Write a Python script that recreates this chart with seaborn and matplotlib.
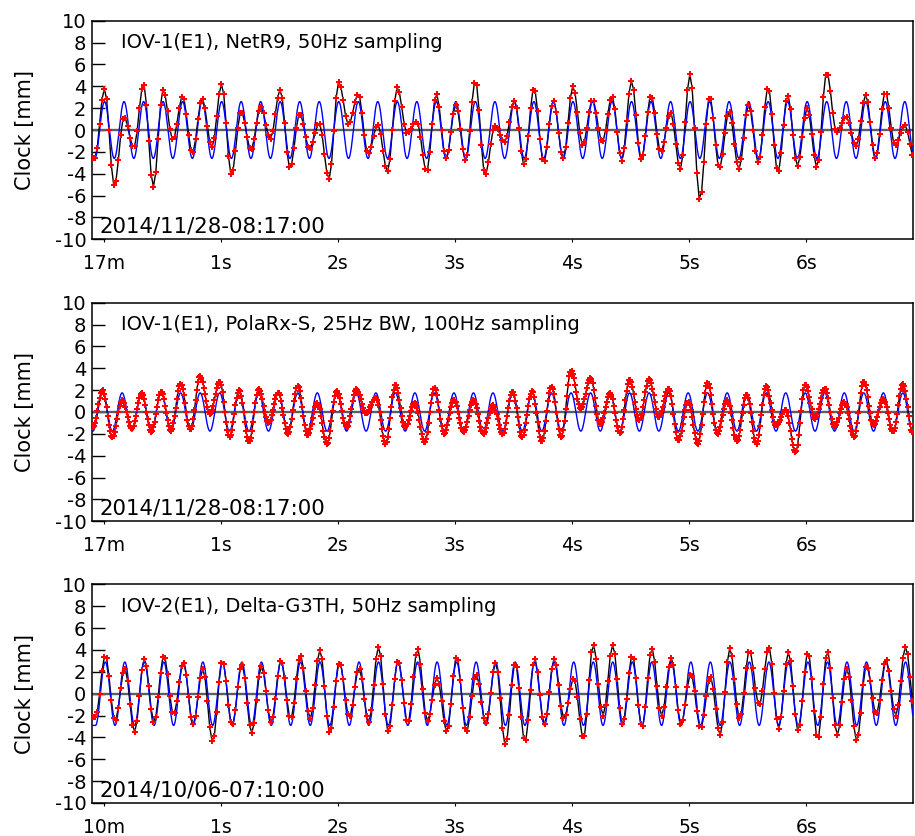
import numpy as np
import pandas as pd
import matplotlib
matplotlib.use("Agg")
import matplotlib.pyplot as plt
import seaborn as sns

# Per-panel labels
titles = ["IOV-1(E1), NetR9, 50Hz sampling",
          "IOV-1(E1), PolaRx-S, 25Hz BW, 100Hz sampling",
          "IOV-2(E1), Delta-G3TH, 50Hz sampling"]
dates = ["2014/11/28-08:17:00", "2014/11/28-08:17:00", "2014/10/06-07:10:00"]
first_tick = ["17m", "17m", "10m"]
tick_secs = [0, 1, 2, 3, 4, 5, 6]
sample_rate = [50, 100, 50]

# Blue model: 6 Hz sinusoid, amplitude and phase (s) read per panel
model_freq = 6.0
model_amp = [2.6, 1.75, 2.9]
model_phase = [0.008, -0.0085, 0.0145]

# Measured clock: value at each half-cycle extremum (k = -1 .. 83), mm
ext1 = [-2.6, 3.8, -5.1, 1.2, -1.6, 4.2, -5.2, 3.7, -0.9, 3.1, -2.1, 2.9, -1.6, 4.2,
        -4.1, 1.7, -1.8, 2.1, -0.8, 3.7, -3.5, 1.5, -1.7, 0.6, -4.5, 4.4, 0.5, 3.3,
        -2.2, 0.5, -3.8, 3.9, -0.3, 0.8, -3.8, 3.3, -2.6, 2.3, -2.8, 4.5, -4.1, 0.4,
        -1.1, 2.7, -3.2, 3.85, -3.0, 2.7, -2.6, 4.0, -1.4, 2.8, -1.1, 3.1, -2.8, 4.5,
        -2.7, 3.2, -2.0, 1.6, -3.6, 5.1, -6.4, 3.1, -3.5, 1.7, -3.6, 2.3, -3.0, 3.9,
        -3.9, 3.2, -3.3, 2.0, -3.4, 5.3, -0.2, 1.2, -1.5, 3.2, -2.6, 3.5, -1.4, 0.45,
        -2.7]
ext2 = [-1.4, 2.0, -2.3, 1.1, -1.5, 1.7, -1.8, 1.9, -1.7, 2.6, -1.6, 3.3, -0.15, 2.8,
        -2.25, 2.0, -2.7, 2.1, -1.0, 1.8, -2.0, 2.4, -2.15, 0.8, -2.9, 1.9, -1.4, 2.1,
        -0.1, 1.3, -2.9, 2.5, -1.4, 0.8, -2.8, 2.2, -2.0, 1.1, -1.8, 1.1, -2.0, 0.6,
        -2.0, 1.85, -2.3, 1.9, -2.7, 2.3, -2.3, 3.75, 0.3, 3.1, -1.1, 1.7, -1.9, 3.0,
        -0.7, 3.0, -0.45, 2.15, -2.6, 0.9, -2.9, 2.7, -2.0, 1.1, -2.7, 1.6, -2.9, 2.4,
        -1.2, 0.2, -3.7, 2.5, -0.6, 2.15, -1.4, 0.9, -2.3, 2.8, -1.2, 1.2, -1.8, 2.6,
        -1.85]
ext3 = [-2.1, 3.5, -2.5, 2.3, -3.5, 3.2, -2.6, 3.5, -1.9, 2.9, -2.8, 2.25, -4.4, 3.0,
        -2.9, 2.7, -3.6, 2.5, -2.6, 3.1, -2.3, 3.5, -2.3, 4.0, -3.6, 2.9, -2.15, 2.3,
        -2.6, 4.3, -3.5, 3.1, -2.7, 4.1, -2.5, 1.45, -3.5, 3.4, -3.5, 1.75, -2.7, 2.85,
        -4.7, 2.8, -4.4, 3.2, -2.8, 3.2, -2.25, 1.4, -4.1, 4.5, -2.0, 4.45, -2.8, 3.5,
        -3.1, 4.15, -2.0, 3.3, -2.8, 1.85, -3.2, 1.55, -3.8, 4.15, -2.3, 3.95, -1.1, 4.25,
        -3.2, 3.8, -3.4, 3.85, -4.15, 3.9, -3.8, 2.3, -4.3, 2.6, -1.85, 3.1, -2.0, 4.3,
        -2.0]
extrema = [ext1, ext2, ext3]

t_min, t_max = -0.099, 6.909


def through_extrema(t, t_ext, v_ext):
    # half-cosine swing from one extremum to the next
    i = np.clip(np.searchsorted(t_ext, t) - 1, 0, len(t_ext) - 2)
    frac = np.clip((t - t_ext[i]) / (t_ext[i + 1] - t_ext[i]), 0, 1)
    w = (1 - np.cos(np.pi * frac)) / 2
    return v_ext[i] + (v_ext[i + 1] - v_ext[i]) * w


sns.set_style("white")
plt.rcParams['font.family'] = ['DejaVu Sans']
plt.rcParams['axes.unicode_minus'] = False
for key in ['text.color', 'axes.labelcolor', 'xtick.color', 'ytick.color']:
    plt.rcParams[key] = 'black'

fig = plt.figure(figsize=(9.15, 8.36), dpi=100)
W, H = 915, 836
ax_left, ax_w, ax_h = 92 / W, 820.7 / W, 218.6 / H
bottoms = [1 - 239.3 / H, 1 - 521.3 / H, 1 - 803.0 / H]

for p in range(3):
    ax = fig.add_axes([ax_left, bottoms[p], ax_w, ax_h])
    half = 0.5 / model_freq
    k = np.arange(-1, 84)
    t_ext = model_phase[p] + k * half
    v_meas = np.array(extrema[p])
    v_model = np.array([model_amp[p] if kk % 2 == 0 else -model_amp[p] for kk in k])

    t_s = np.arange(t_min + 0.005, t_max, 1.0 / sample_rate[p])
    meas = pd.DataFrame({"t": t_s, "clock": through_extrema(t_s, t_ext, v_meas)})
    t_f = np.linspace(t_min, t_max, 3000)
    model = pd.DataFrame({"t": t_f, "clock": through_extrema(t_f, t_ext, v_model)})

    ax.axhline(0, color="#5e5e5e", lw=1.7, zorder=1)
    sns.lineplot(data=meas, x="t", y="clock", color="black", lw=1.0,
                 sort=False, estimator=None, ax=ax, zorder=2)
    sns.lineplot(data=model, x="t", y="clock", color="#0000ff", lw=1.0,
                 sort=False, estimator=None, ax=ax, zorder=3)
    sns.scatterplot(data=meas, x="t", y="clock", color="red", marker="P",
                    s=24, linewidth=0, ax=ax, zorder=4)

    ax.set_xlim(t_min, t_max)
    ax.set_ylim(-10, 10)
    ax.set_yticks(range(-10, 11, 2))
    ax.set_xticks(tick_secs)
    ax.set_xticklabels([first_tick[p]] + [f"{s}s" for s in tick_secs[1:]])
    ax.tick_params(axis="y", direction="in", length=9.5, width=1, pad=4,
                   labelsize=14, left=True, right=False)
    ax.tick_params(axis="x", direction="out", length=2.5, width=0.8, pad=8,
                   labelsize=13.5, bottom=True, top=False)
    for sp in ax.spines.values():
        sp.set_color("black")
        sp.set_linewidth(1.1)
    ax.set_xlabel("")
    ax.set_ylabel("Clock [mm]", fontsize=15)
    ax.yaxis.set_label_coords(-0.069, 0.5)

    ax.text(0.035, 0.874, titles[p], transform=ax.transAxes, fontsize=14,
            va="baseline", ha="left")
    ax.text(0.0097, 0.032, dates[p], transform=ax.transAxes, fontsize=15.3,
            va="baseline", ha="left")

fig.savefig("out.png", dpi=100)
